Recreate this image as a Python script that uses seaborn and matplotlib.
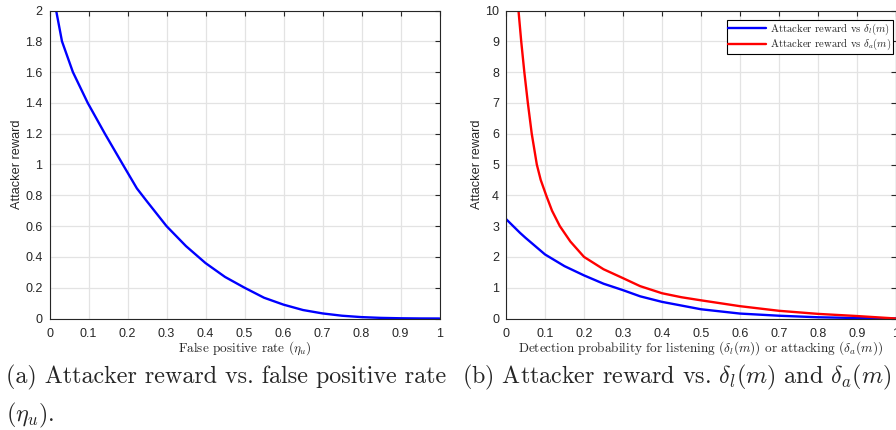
import matplotlib
matplotlib.use("Agg")
import matplotlib.pyplot as plt
import seaborn as sns
import pandas as pd
from matplotlib.ticker import FuncFormatter, MultipleLocator

# ---- data ----
fpr_x = [0.017, 0.032, 0.06, 0.098, 0.142, 0.188, 0.224, 0.25, 0.3, 0.35, 0.4,
         0.45, 0.5, 0.55, 0.6, 0.65, 0.7, 0.75, 0.8, 0.85, 0.9, 0.95, 1.0]
fpr_reward = [2.0, 1.8, 1.6, 1.4, 1.2, 1.0, 0.845, 0.76, 0.60, 0.47, 0.36,
              0.27, 0.20, 0.135, 0.09, 0.055, 0.033, 0.018, 0.009, 0.004, 0.0015,
              0.0003, 0.0]

listen_x = [0.0, 0.036, 0.05, 0.1, 0.15, 0.2, 0.25, 0.3, 0.344, 0.4, 0.45, 0.5,
            0.6, 0.7, 0.8, 0.9, 1.0]
listen_reward = [3.23, 2.78, 2.62, 2.08, 1.70, 1.40, 1.13, 0.92, 0.72, 0.54, 0.42,
                 0.30, 0.16, 0.09, 0.04, 0.015, 0.0]

attack_x = [0.032, 0.039, 0.047, 0.056, 0.066, 0.079, 0.089, 0.103, 0.118, 0.138,
            0.165, 0.2, 0.25, 0.3, 0.344, 0.4, 0.45, 0.5, 0.6, 0.7, 0.8, 0.9, 1.0]
attack_reward = [10.0, 9.0, 8.0, 7.0, 6.0, 5.0, 4.5, 4.0, 3.5, 3.0,
                 2.5, 2.0, 1.6, 1.31, 1.05, 0.82, 0.69, 0.59, 0.40, 0.25, 0.15,
                 0.08, 0.0]

x_ticks = [0, 0.1, 0.2, 0.3, 0.4, 0.5, 0.6, 0.7, 0.8, 0.9, 1.0]
label_listen = r"Attacker reward vs $\delta_l(m)$"
label_attack = r"Attacker reward vs $\delta_a(m)$"
xlabel_a = r"False positive rate ($\eta_u$)"
xlabel_b = r"Detection probability for listening ($\delta_l(m)$) or attacking ($\delta_a(m)$)"
ylabel = "Attacker reward"
caption_a1 = "(a) Attacker reward vs. false positive rate"
caption_a2 = r"($\eta_u$)."
caption_b = r"(b) Attacker reward vs. $\delta_l(m)$ and $\delta_a(m)$"

sns.set_style("white")
plt.rcParams["font.family"] = ["Liberation Sans", "DejaVu Sans"]
plt.rcParams["mathtext.fontset"] = "cm"

df_a = pd.DataFrame({"x": fpr_x, "y": fpr_reward})
df_b = pd.concat([
    pd.DataFrame({"x": listen_x, "y": listen_reward, "s": label_listen}),
    pd.DataFrame({"x": attack_x, "y": attack_reward, "s": label_attack}),
])

fig = plt.figure(figsize=(8.96, 4.30), dpi=100)
ax1 = fig.add_axes([49.5 / 896, 111.5 / 430, 390 / 896, 308 / 430])
ax2 = fig.add_axes([506 / 896, 111.5 / 430, 390 / 896, 308 / 430])

sns.lineplot(data=df_a, x="x", y="y", ax=ax1, color=(0, 0, 1), linewidth=1.7,
             sort=False, estimator=None)
sns.lineplot(data=df_b, x="x", y="y", hue="s", ax=ax2,
             palette=[(0, 0, 1), (1, 0, 0)], linewidth=1.7, sort=False,
             estimator=None)

fmt = FuncFormatter(lambda v, p: f"{v:g}")
for ax, ymax, ystep in [(ax1, 2, 0.2), (ax2, 10, 1)]:
    ax.set_xlim(0, 1)
    ax.set_ylim(0, ymax)
    ax.set_xticks(x_ticks)
    ax.yaxis.set_major_locator(MultipleLocator(ystep))
    ax.xaxis.set_major_formatter(fmt)
    ax.yaxis.set_major_formatter(fmt)
    ax.grid(True, color="#e3e3e3", linewidth=0.9)
    ax.set_axisbelow(True)
    for sp in ax.spines.values():
        sp.set_color("#262626")
        sp.set_linewidth(0.8)
        sp.set_visible(True)
    ax.tick_params(direction="in", length=3.5, width=0.8, colors="#262626",
                   labelsize=9, top=True, right=True, pad=5)
    ax.tick_params(axis="x", pad=6.5)
    ax.set_ylabel(ylabel, fontsize=9.2, color="#262626", labelpad=1.5)

ax1.set_xlabel(xlabel_a, fontsize=9.5, family="cmr10", labelpad=0)
ax2.set_xlabel(xlabel_b, fontsize=9.5, family="cmr10", labelpad=0)

leg = ax2.legend(loc="upper right", bbox_to_anchor=(893 / 896, 1 - 20.5 / 430),
                 bbox_transform=fig.transFigure, frameon=True, fancybox=False,
                 framealpha=1, edgecolor="black", borderpad=0.12,
                 handlelength=3.6, handletextpad=0.35, labelspacing=0.0,
                 borderaxespad=0.0, prop={"family": "cmr10", "size": 7.7})
leg.get_frame().set_linewidth(0.8)

fig.text(6 / 896, 1 - 377 / 430, caption_a1, fontsize=17.3, family="cmr10",
         va="center", ha="left")
fig.text(6 / 896, 1 - 415 / 430, caption_a2, fontsize=17.3, family="cmr10",
         va="center", ha="left")
fig.text(462 / 896, 1 - 377 / 430, caption_b, fontsize=17.3, family="cmr10",
         va="center", ha="left")

fig.savefig("out.png", dpi=100)
